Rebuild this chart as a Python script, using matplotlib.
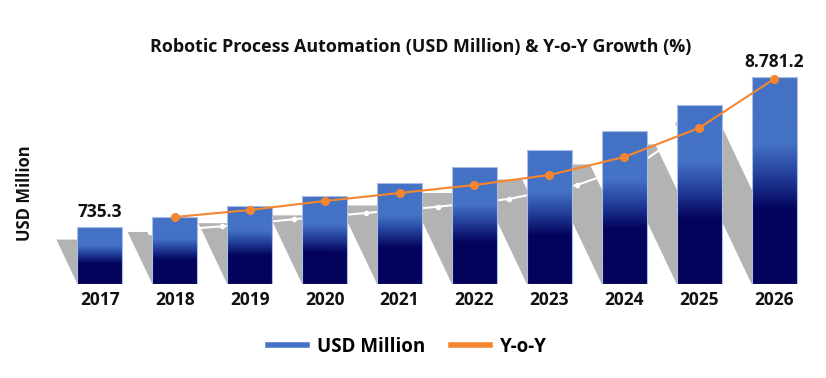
import matplotlib
matplotlib.use("Agg")
from matplotlib import pyplot as plt
from matplotlib.colors import LinearSegmentedColormap
from matplotlib.patches import Polygon
from matplotlib.lines import Line2D
import numpy as np

# data
years = ["2017", "2018", "2019", "2020", "2021", "2022", "2023", "2024", "2025", "2026"]
usd_million = [735.3, 1258, 1864, 2400, 3082, 3940, 4868, 5903, 7282, 8781.2]
yoy_years = ["2018", "2019", "2020", "2021", "2022", "2023", "2024", "2025", "2026"]
yoy_growth = [6.7, 7.4, 8.3, 9.1, 9.9, 10.9, 12.7, 15.6, 20.5]

BASE = -2320          # value axis does not start at zero in the original
BLUE = "#4472C4"
NAVY = "#03035C"
ORANGE = "#F5862F"
GREY = "#B3B3B3"
BOLD = "Open Sans"

fig = plt.figure(figsize=(8.26, 3.78), dpi=100)
ax = fig.add_axes([25 / 826, 94 / 378, 779 / 826, 244 / 378])
ax2 = ax.twinx()

x = np.arange(len(years))
width = 0.6
xlim = (-1, 9.4)
ylim = (BASE, BASE + 244 * 53.64)
ax.set_xlim(xlim)
ax.set_ylim(ylim)
ax2.set_ylim(0, 24.4)

# bars (patches only used as outline + clip for the gradient)
bars = ax.bar(x, np.array(usd_million) - BASE, bottom=BASE, width=width,
              facecolor="none", edgecolor="#A9BDE6", linewidth=0.8, zorder=3)

cmap = LinearSegmentedColormap.from_list(
    "bargrad", [(0, NAVY), (0.36, NAVY), (0.54, "#26449F"), (0.68, BLUE), (1, BLUE)])
grad = np.linspace(0, 1, 256).reshape(-1, 1)

fig.canvas.draw()
to_disp = ax.transData.transform
to_data = ax.transData.inverted().transform
base_disp = to_disp((0, BASE))[1]

SLANT = 0.37   # shadow lean (px left per px of height)
SQUASH = 0.78  # shadow height relative to bar

for xi, v, b in zip(x, usd_million, bars):
    xl, yb = to_disp((xi - width / 2, BASE))
    xr, yt = to_disp((xi + width / 2, v))
    h = yt - yb
    pts = [(xl, yb), (xr, yb), (xr - SLANT * h, yb + SQUASH * h), (xl - SLANT * h, yb + SQUASH * h)]
    ax.add_patch(Polygon(to_data(pts), closed=True, facecolor=GREY,
                         edgecolor="none", zorder=1))
    im = ax.imshow(grad, cmap=cmap, origin="lower", aspect="auto",
                   extent=(xi - width / 2, xi + width / 2, BASE, v), zorder=2)
    im.set_clip_path(b)

# faint white "shadow" of the growth line on the grey shadows
yoy_x = [years.index(y) for y in yoy_years]
line_disp = ax2.transData.transform(np.column_stack([yoy_x, yoy_growth]))
h = line_disp[:, 1] - base_disp
sh = np.column_stack([line_disp[:, 0] - SLANT * h, base_disp + SQUASH * h])
sh = to_data(sh)
ax.plot(sh[:, 0], sh[:, 1], color="white", lw=1.5, marker="o", ms=3, zorder=1.5)

ax.set_xlim(xlim)
ax.set_ylim(ylim)

# growth line
ax2.plot(yoy_x, yoy_growth, color=ORANGE, lw=1.5, marker="o", ms=5.5, zorder=5)

# value labels on first and last bar
for i in (0, len(years) - 1):
    ax.annotate(f"{usd_million[i]:,.1f}".replace(",", "."), (x[i], usd_million[i]),
                xytext=(0, 4), textcoords="offset points", ha="center", va="bottom",
                fontsize=12.5, fontweight="bold", family=BOLD, color="#111111")

ax.set_xticks(x)
ax.set_xticklabels(years, fontsize=12.5, fontweight="bold", family=BOLD, color="#111111")
ax.tick_params(axis="x", length=0, pad=5)
ax.set_yticks([])
ax2.set_yticks([])
for a in (ax, ax2):
    for s in a.spines.values():
        s.set_visible(False)

fig.text(25 / 826, 1 - 193 / 378, "USD Million", rotation=90, ha="center", va="center",
         fontsize=12, fontweight="bold", family=BOLD, color="#111111")

title = fig.text(421 / 826, 1 - 47 / 378,
                 "Robotic Process Automation (USD Million) & Y-o-Y Growth (%)",
                 ha="center", va="center", fontsize=14, fontweight="bold",
                 family=BOLD, color="#111111")
# narrow the title to the width it has in the original
fig.canvas.draw()
tw = title.get_window_extent().width
title.set_fontsize(14 * 547 / tw)

handles = [Line2D([], [], color=BLUE, lw=4), Line2D([], [], color=ORANGE, lw=4)]
fig.legend(handles, ["USD Million", "Y-o-Y"], loc="center", bbox_to_anchor=(0.493, 1 - 347 / 378),
           ncol=2, frameon=False, handlelength=2.1, handletextpad=0.5, columnspacing=1.4,
           prop={"family": BOLD, "weight": "bold", "size": 13.5})

plt.savefig("out.png", dpi=100)
